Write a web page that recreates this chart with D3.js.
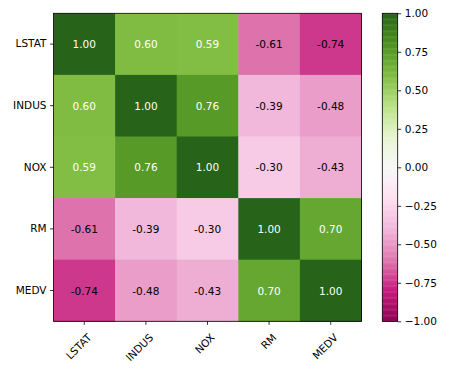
<!DOCTYPE html>
<html>
<head>
<meta charset="utf-8">
<script src="https://cdn.jsdelivr.net/npm/d3@7"></script>
<style>
  body { margin: 0; background: #fff; }
  text { font-family: "DejaVu Sans", sans-serif; }
</style>
</head>
<body>
<div id="chart"></div>
<script>
const labels = ["LSTAT", "INDUS", "NOX", "RM", "MEDV"];
const corr = [
  [ 1.00,  0.60,  0.59, -0.61, -0.74],
  [ 0.60,  1.00,  0.76, -0.39, -0.48],
  [ 0.59,  0.76,  1.00, -0.30, -0.43],
  [-0.61, -0.39, -0.30,  1.00,  0.70],
  [-0.74, -0.48, -0.43,  0.70,  1.00]
];
const cbarTicks = [-1, -0.75, -0.5, -0.25, 0, 0.25, 0.5, 0.75, 1];

// PiYG as matplotlib builds it: linear steps between the 11 brewer colours
const piyg = ["#8e0152","#c51b7d","#de77ae","#f1b6da","#fde0ef","#f7f7f7",
              "#e6f5d0","#b8e186","#7fbc41","#4d9221","#276419"];
const color = d3.scaleLinear()
  .domain(d3.range(11).map(i => -1 + i * 0.2))
  .range(piyg)
  .interpolate(d3.interpolateRgb);

const width = 450, height = 372;
const plot = {left: 53.5, top: 13.3, size: 308};
const cbar = {left: 382.3, width: 15.4};

const svg = d3.select("#chart").append("svg")
  .attr("width", width)
  .attr("height", height);

const x = d3.scaleBand().domain(labels).range([plot.left, plot.left + plot.size]);
const y = d3.scaleBand().domain(labels).range([plot.top, plot.top + plot.size]);

const cells = [];
corr.forEach((row, i) => row.forEach((v, j) => cells.push({r: labels[i], c: labels[j], v})));

svg.append("g")
  .selectAll("rect")
  .data(cells)
  .enter()
  .append("rect")
  .attr("x", d => x(d.c))
  .attr("y", d => y(d.r))
  .attr("width", x.bandwidth() + 0.5)
  .attr("height", y.bandwidth() + 0.5)
  .attr("fill", d => color(d.v));

svg.append("g")
  .selectAll("text")
  .data(cells)
  .enter()
  .append("text")
  .attr("x", d => x(d.c) + x.bandwidth() / 2)
  .attr("y", d => y(d.r) + y.bandwidth() / 2)
  .attr("text-anchor", "middle")
  .attr("dominant-baseline", "central")
  .attr("font-size", "10.5px")
  .attr("fill", d => d.v > 0 ? "#fff" : "#000")
  .text(d => d.v.toFixed(2));

svg.append("rect")
  .attr("x", plot.left)
  .attr("y", plot.top)
  .attr("width", plot.size)
  .attr("height", plot.size)
  .attr("fill", "none")
  .attr("stroke", "#000")
  .attr("stroke-width", 0.8);

// y axis
const yAxis = svg.append("g")
  .attr("transform", `translate(${plot.left},0)`)
  .call(d3.axisLeft(y).tickSize(3.5).tickPadding(3.5));
yAxis.select(".domain").remove();
yAxis.selectAll("text").attr("font-size", "10.5px").attr("fill", "#000")
  .attr("font-family", "DejaVu Sans");
yAxis.selectAll("line").attr("stroke-width", 0.8);

// x axis, rotated labels anchored at their top-right corner
const xAxis = svg.append("g")
  .attr("transform", `translate(0,${plot.top + plot.size})`)
  .call(d3.axisBottom(x).tickSize(3.5).tickPadding(3.5));
xAxis.select(".domain").remove();
xAxis.selectAll("line").attr("stroke-width", 0.8);
xAxis.selectAll("text")
  .attr("font-size", "10.5px")
  .attr("font-family", "DejaVu Sans")
  .attr("fill", "#000")
  .attr("y", 0).attr("dy", "0.8em")
  .attr("text-anchor", "end")
  .attr("transform", "translate(2,11) rotate(-45)");

// colorbar
const cy = d3.scaleLinear().domain([-1, 1]).range([plot.top + plot.size, plot.top]);
const steps = d3.range(0, 256).map(i => -1 + (i + 0.5) * 2 / 256);
svg.append("g")
  .selectAll("rect")
  .data(steps)
  .enter()
  .append("rect")
  .attr("x", cbar.left)
  .attr("y", d => cy(d + 1 / 256))
  .attr("width", cbar.width)
  .attr("height", plot.size / 256 + 0.4)
  .attr("fill", d => color(d));

svg.append("rect")
  .attr("x", cbar.left)
  .attr("y", plot.top)
  .attr("width", cbar.width)
  .attr("height", plot.size)
  .attr("fill", "none")
  .attr("stroke", "#000")
  .attr("stroke-width", 0.8);

const cAxis = svg.append("g")
  .attr("transform", `translate(${cbar.left + cbar.width},0)`)
  .call(d3.axisRight(cy).tickValues(cbarTicks).tickSize(3.5).tickPadding(3.5)
    .tickFormat(d => d3.format(".2f")(d).replace("-", "\u2212")));
cAxis.select(".domain").remove();
cAxis.selectAll("line").attr("stroke-width", 0.8);
cAxis.selectAll("text").attr("font-size", "10.5px").attr("fill", "#000")
  .attr("font-family", "DejaVu Sans");
</script>
</body>
</html>
